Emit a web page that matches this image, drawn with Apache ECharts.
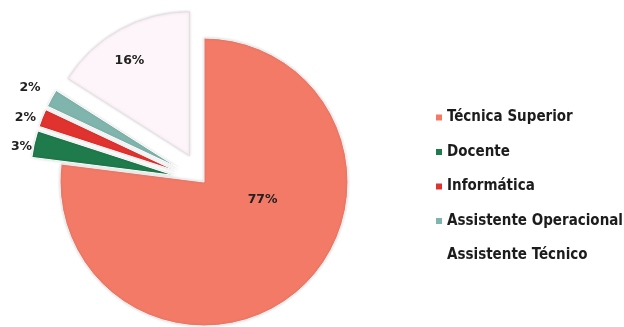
<!DOCTYPE html>
<html><head><meta charset="utf-8">
<script src="https://cdn.jsdelivr.net/npm/echarts@6/dist/echarts.min.js"></script>
<style>html,body{margin:0;padding:0;background:#fff}#c{width:624px;height:327px}</style>
</head><body><div id="c"></div>
<script>
const categories = ['Técnica Superior', 'Docente', 'Informática', 'Assistente Operacional', 'Assistente Técnico'];
const values = [77, 3, 2, 2, 16];
const colors = ['#f37a67', '#1f7a4c', '#e0332f', '#80b5ad', '#fdf5f9'];
const labelShifts = [[9, -39], [-80, -12], [-81, -26], [-82, -44], [-24, -29]];

const chart = echarts.init(document.getElementById('c'));
chart.setOption({
  animation: false,
  legend: {
    orient: 'vertical', left: 431, top: 105, itemGap: 19.5, itemWidth: 6, itemHeight: 6, icon: 'rect',
    textStyle: { fontFamily: 'DejaVu Sans Condensed', fontWeight: 'bold', fontSize: 15, color: '#1c1c1c' },
    data: categories.map((c, i) => i === 4
      ? { name: c, itemStyle: { color: '#ffffff', borderWidth: 0, opacity: 0 } }
      : { name: c, itemStyle: { borderWidth: 0 } })
  },
  series: [{
    type: 'pie', center: [204, 182], radius: [0, 144], startAngle: 90, clockwise: true,
    selectedMode: 'multiple', selectedOffset: 30,
    labelLine: { show: false },
    labelLayout: function (p) {
      const s = labelShifts[p.dataIndex];
      return { dx: s[0], dy: s[1] };
    },
    data: categories.map((c, i) => ({
      name: c, value: values[i], selected: i > 0,
      itemStyle: {
        color: colors[i], borderColor: i === 4 ? '#e4dfe3' : (i === 0 ? '#eef3f6' : '#ffffff'), borderWidth: 1,
        shadowBlur: 3, shadowColor: 'rgba(0,0,0,0.15)'
      },
      label: {
        show: true, position: 'inside',
        formatter: '{d}%',
        fontFamily: 'DejaVu Sans', fontWeight: 'bold', fontSize: 12.5, color: '#222'
      }
    }))
  }]
});
</script></body></html>
